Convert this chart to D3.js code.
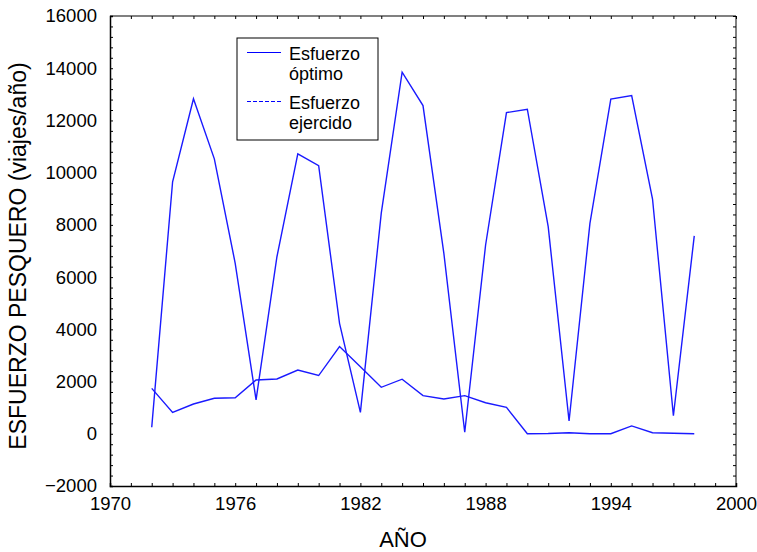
<!DOCTYPE html>
<html>
<head>
<meta charset="utf-8">
<script src="https://cdn.jsdelivr.net/npm/d3@7"></script>
<style>
  body { margin: 0; background: #fff; }
  text { font-family: "Liberation Sans", Arial, sans-serif; }
</style>
</head>
<body>
<div id="wrapper"></div>
<script>
// data
const years = d3.range(1972, 1999)
const esfuerzoOptimo = [250, 9650, 12830, 10530, 6530, 1300, 6780, 10720, 10270, 4230, 820, 8450,
                        13850, 12570, 6910, 60, 7230, 12300, 12430, 7930, 490, 8060, 12820, 12950, 8990, 690, 7580]
const esfuerzoEjercido = [1740, 820, 1140, 1360, 1380, 2060, 2100, 2440, 2230, 3340, 2570, 1780,
                          2090, 1460, 1330, 1460, 1190, 1010, 0, 10, 40, 0, 0, 300, 40, 20, 0]
const yTicks = [-2000, 0, 2000, 4000, 6000, 8000, 10000, 12000, 14000, 16000]
const xTicks = [1970, 1976, 1982, 1988, 1994, 2000]
const legendLabels = [["Esfuerzo", "óptimo"], ["Esfuerzo", "ejercido"]]

const dimensions = {
    width: 757,
    height: 552,
    margin: { top: 16, right: 21, bottom: 66, left: 110 },
}
dimensions.boundedWidth = dimensions.width - dimensions.margin.left - dimensions.margin.right
dimensions.boundedHeight = dimensions.height - dimensions.margin.top - dimensions.margin.bottom

const svg = d3.select("#wrapper").append("svg")
    .attr("width", dimensions.width)
    .attr("height", dimensions.height)

const bounds = svg.append("g")
    .attr("transform", `translate(${dimensions.margin.left},${dimensions.margin.top})`)

const xScale = d3.scaleLinear().domain([1970, 2000]).range([0, dimensions.boundedWidth])
const yScale = d3.scaleLinear().domain([-2000, 16000]).range([dimensions.boundedHeight, 0])

// frame: top & right in gray
bounds.append("line").attr("x1", 0).attr("x2", dimensions.boundedWidth).attr("y1", 0).attr("y2", 0)
    .attr("stroke", "#808080").attr("stroke-width", 2)
bounds.append("line").attr("x1", dimensions.boundedWidth).attr("x2", dimensions.boundedWidth)
    .attr("y1", 0).attr("y2", dimensions.boundedHeight)
    .attr("stroke", "#808080").attr("stroke-width", 2)

const minorX = d3.range(1970, 2001)
const minorY = d3.range(-2000, 16001, 400)

// top and right ticks (inside)
bounds.append("g").call(d3.axisBottom(xScale).tickValues(minorX).tickSize(3).tickFormat(""))
    .call(g => g.select(".domain").remove())
bounds.append("g").attr("transform", `translate(${dimensions.boundedWidth},0)`)
    .call(d3.axisLeft(yScale).tickValues(minorY).tickSize(3).tickFormat(""))
    .call(g => g.select(".domain").remove())

// bottom axis
const xAxis = bounds.append("g")
    .attr("transform", `translate(0,${dimensions.boundedHeight})`)
xAxis.call(d3.axisTop(xScale).tickValues(minorX).tickSize(3).tickFormat(""))
    .call(g => g.select(".domain").attr("stroke-width", 1.5))
xAxis.append("g").call(d3.axisBottom(xScale).tickValues(xTicks).tickSize(0).tickPadding(11).tickFormat(d3.format("d")))
    .call(g => g.select(".domain").remove())
    .selectAll("text").attr("font-size", 18.5).attr("fill", "#000")
    .style("font-family", "'Liberation Sans', Arial, sans-serif")

// left axis
const yAxis = bounds.append("g")
yAxis.call(d3.axisRight(yScale).tickValues(minorY).tickSize(3).tickFormat(""))
    .call(g => g.select(".domain").attr("stroke-width", 1.5))
yAxis.append("g").call(d3.axisLeft(yScale).tickValues(yTicks).tickSize(0).tickPadding(13).tickFormat(d3.format("d")))
    .call(g => g.select(".domain").remove())
    .selectAll("text").attr("font-size", 18.5).attr("fill", "#000")
    .style("font-family", "'Liberation Sans', Arial, sans-serif")

// axis labels
svg.append("text")
    .attr("x", 403).attr("y", 547)
    .attr("text-anchor", "middle").attr("font-size", 22)
    .text("AÑO")
svg.append("text")
    .attr("transform", `translate(26,256) rotate(-90)`)
    .attr("text-anchor", "middle").attr("font-size", 23)
    .text("ESFUERZO PESQUERO (viajes/año)")

// lines
const lineGen = values => d3.line()
    .x((d, i) => xScale(years[i]))
    .y(d => yScale(d))(values)

bounds.append("path").attr("d", lineGen(esfuerzoOptimo))
    .attr("fill", "none").attr("stroke", "#1a1aff").attr("stroke-width", 1.4)
bounds.append("path").attr("d", lineGen(esfuerzoEjercido))
    .attr("fill", "none").attr("stroke", "#1a1aff").attr("stroke-width", 1.4)

// legend
const legend = svg.append("g").attr("transform", "translate(237,38)")
legend.append("rect").attr("width", 141).attr("height", 102)
    .attr("fill", "#fff").attr("stroke", "#000").attr("stroke-width", 1)
legendLabels.forEach((lines, i) => {
    const y0 = 14.5 + i * 49
    legend.append("line").attr("x1", 10).attr("x2", 44).attr("y1", y0).attr("y2", y0)
        .attr("stroke", "#0000ff").attr("stroke-width", 1)
        .attr("shape-rendering", "crispEdges")
        .attr("stroke-dasharray", i === 1 ? "4,2" : null)
    lines.forEach((t, j) => {
        legend.append("text").attr("x", 52).attr("y", y0 + 7.5 + j * 20)
            .attr("font-size", 18).text(t)
    })
})
</script>
</body>
</html>
